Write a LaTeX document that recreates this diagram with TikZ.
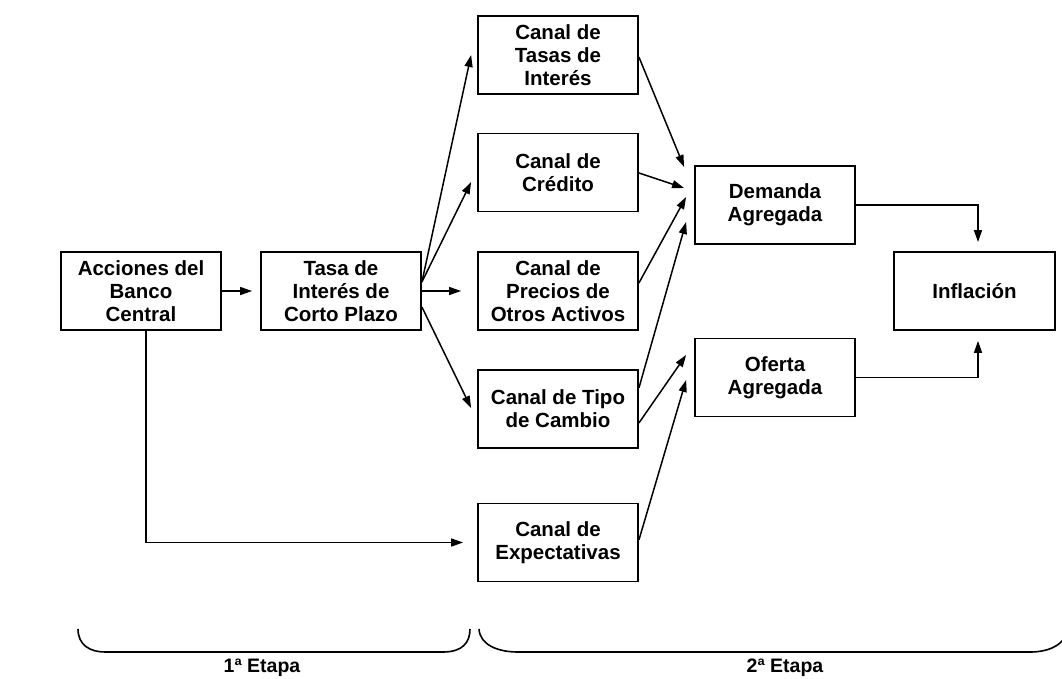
\documentclass[tikz,border=0pt]{standalone}
\usepackage{fontspec}
\setmainfont{Liberation Sans}
\usetikzlibrary{calc,arrows.meta}
\begin{document}
\begin{tikzpicture}[x=1pt,y=-1pt,
  box/.style={draw,line width=1.8pt,minimum width=160pt,minimum height=78pt,
    align=center,inner sep=0pt,font=\fontsize{20.5}{23}\selectfont\bfseries},
  arr/.style={line width=1.5pt,-{Triangle[length=12pt,width=8pt]}},
  brace/.style={line width=1.6pt},
  lbl/.style={font=\fontsize{19.5}{22}\selectfont\bfseries}]
\useasboundingbox (0,0) rectangle (1062,679);
\node[box] (acc) at (141,291) {Acciones del\\Banco\\Central};
\node[box] (tasa) at (341,291) {Tasa de\\Interés de\\Corto Plazo};
\node[box] (ctasas) at (558,55) {Canal de\\Tasas de\\Interés};
\node[box] (cred) at (558,172.5) {Canal de\\Crédito};
\node[box] (prec) at (558,291) {Canal de\\Precios de\\Otros Activos};
\node[box] (tipo) at (558,409) {Canal de Tipo\\de Cambio};
\node[box] (expec) at (558,542.5) {Canal de\\Expectativas};
\node[box] (dem) at (775,205) {Demanda\\Agregada};
\node[box] (ofe) at (775,377.5) {Oferta\\Agregada};
\node[box,minimum width=161pt] (inf) at (974.5,291) {Inflación};
% first stage
\draw[arr,shorten >=8pt] (acc.east) -- (tasa.west);
\draw[arr] ($(tasa.east)+(0,-9)$) -- ($(ctasas.west)+(-6,0)$);
\draw[arr] ($(tasa.east)+(0,-9)$) -- ($(cred.west)+(-6,9.5)$);
\draw[arr,shorten >=16pt] (tasa.east) -- (prec.west);
\draw[arr] ($(tasa.east)+(0,16)$) -- ($(tipo.west)+(-6,-1)$);
\draw[arr] ($(acc.south)+(5,0)$) |- ($(expec.west)+(-14,0)$);
% second stage
\draw[arr] ($(ctasas.east)+(0,2)$) -- ($(dem.west)+(-10,-38)$);
\draw[arr] ($(cred.east)+(0,0.5)$) -- ($(dem.west)+(-10,-17)$);
\draw[arr] ($(prec.east)+(0,-8)$) -- ($(dem.west)+(-8,-8)$);
\draw[arr] ($(tipo.east)+(0,-21)$) -- ($(dem.west)+(-8,17)$);
\draw[arr] ($(tipo.east)+(0,14)$) -- ($(ofe.west)+(-8,-22.5)$);
\draw[arr] ($(expec.east)+(0,-2.5)$) -- ($(ofe.west)+(-8,2.5)$);
\draw[arr] (dem.east) -| ($(inf.north)+(3.5,-9)$);
\draw[arr] (ofe.east) -| ($(inf.south)+(3.5,10)$);
% braces
\draw[brace] (78,629) .. controls (78,645) and (90,652) .. (105,652) -- (443,652)
  .. controls (463,652) and (470,642) .. (470,629);
\draw[brace] (479,629) .. controls (480,645) and (498,652) .. (518,652) -- (1030,652)
  .. controls (1048,652) and (1060,646) .. (1066,636);
\node[lbl] (e1) at (262,668) {1ª Etapa};
\node[lbl] (e2) at (785,668) {2ª Etapa};
\end{tikzpicture}
\end{document}
